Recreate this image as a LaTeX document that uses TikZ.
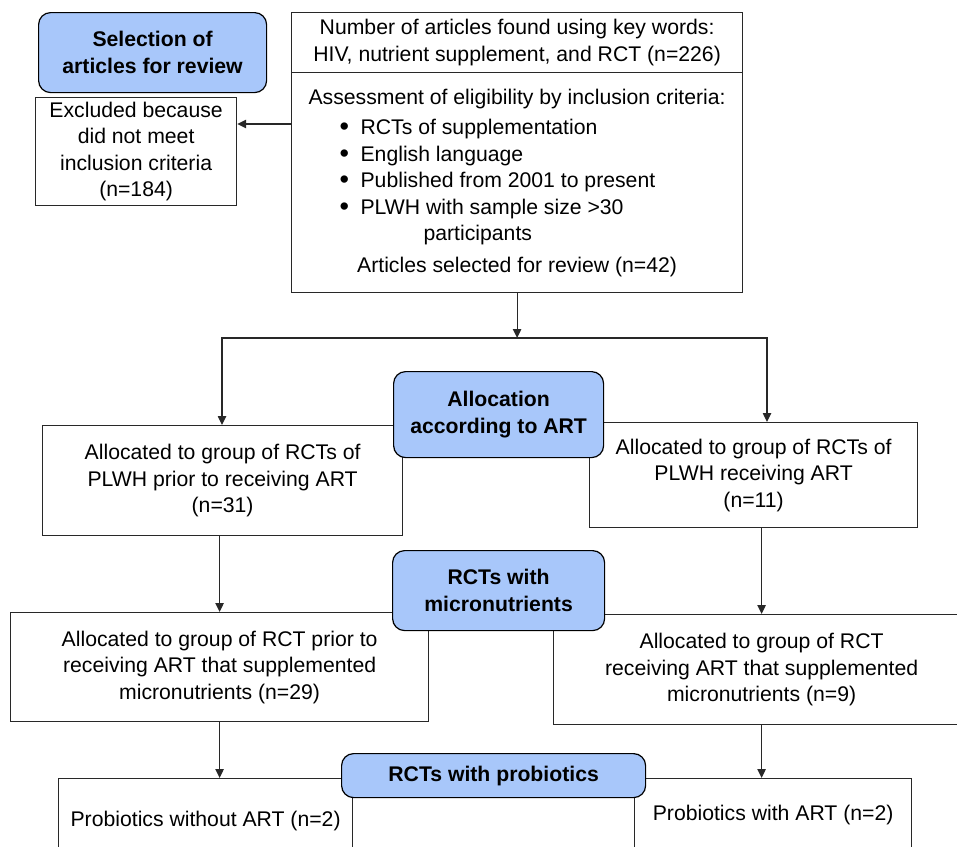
\documentclass[tikz,border=0pt]{standalone}
\usepackage{fontspec}
\setmainfont{Liberation Sans}
\usepackage{tikz}
\usetikzlibrary{arrows.meta}
\usetikzlibrary{calc}

\definecolor{hdrblue}{RGB}{168,199,250}
\definecolor{edgegray}{RGB}{40,40,40}

\newcommand{\boxfont}{\fontsize{10.6}{13.25}\selectfont}
\newcommand{\critem}[1]{\makebox[177.5pt][l]{\makebox[10.5pt][l]{\raisebox{-0.6pt}{\fontsize{13.5}{13.5}\selectfont\textbullet}}#1}}

\begin{document}
\begin{tikzpicture}[x=0.5pt,y=-0.5pt]

% Define styles
\tikzset{
    box/.style={draw=edgegray, line width=0.6pt, fill=white, inner sep=0pt, align=center, anchor=north west, font=\boxfont},
    header/.style={box, fill=hdrblue, draw=black, rounded corners=6pt, font=\boxfont\bfseries},
    arrow/.style={draw=edgegray, line width=0.6pt, -{Triangle[length=4.5pt,width=4.2pt]}}
}

% page size in pixels of the original figure
\useasboundingbox (0,0) rectangle (957,846);

% grid lines
%\draw[help lines, dashed] grid (957,846);

% top part: search and eligibility
\node[header, minimum width=114pt, minimum height=40pt] (SEL) at (38,12) {Selection of\\articles for review};

\node[box, minimum width=100.5pt, minimum height=54pt] (EXCL) at (35,97)
    {Excluded because\\did not meet\\inclusion criteria\\(n=184)};

\node[box, minimum width=225.5pt, minimum height=30pt] (SEARCH) at (291,12)
    {Number of articles found using key words:\\HIV, nutrient supplement, and RCT (n=226)};

\node[box, minimum width=225.5pt, minimum height=110pt] (ELIG) at (291,72)
    {Assessment of eligibility by inclusion criteria:\\[2pt]
     \critem{RCTs of supplementation}\\
     \critem{English language}\\
     \critem{Published from 2001 to present}\\
     \critem{PLWH with sample size >30}\\
     \makebox[177.5pt][l]{\hspace*{42pt}participants}\\[2.5pt]
     Articles selected for review (n=42)};

\draw[arrow] ([yshift=-26pt]ELIG.north west) -- ([yshift=-26pt]ELIG.north west -| EXCL.east);


% allocation according to ART
\coordinate (SPLIT) at (516,338);
\coordinate (SPLITL) at (222,338);
\coordinate (SPLITR) at (767,338);

\node[box, minimum width=180pt, minimum height=55pt] (PRIOR) at (42,425)
    {Allocated to group of RCTs of\\PLWH prior to receiving ART\\(n=31)};

\node[box, minimum width=164pt, minimum height=52.5pt] (WITHART) at (589,422)
    {Allocated to group of RCTs of\\PLWH receiving ART\\(n=11)};

\node[header, minimum width=105pt, minimum height=43pt] (ALLOC) at (393,371) {Allocation\\according to ART};

\draw[arrow] (ELIG.south) -- (ELIG.south |- SPLIT);
\draw[arrow] (SPLIT) -- (SPLITL) -- (SPLITL |- PRIOR.north);
\draw[arrow] (SPLIT) -- (SPLITR) -- (SPLITR |- WITHART.north);


% micronutrients
\node[box, minimum width=209pt, minimum height=54.5pt] (MICROA) at (10,612)
    {Allocated to group of RCT prior to\\receiving ART that supplemented\\micronutrients (n=29)};

\node[box, minimum width=208pt, minimum height=55pt] (MICROB) at (553,614)
    {Allocated to group of RCT\\receiving ART that supplemented\\micronutrients (n=9)};

\node[header, minimum width=106pt, minimum height=40pt] (MICRO) at (392,550) {RCTs with\\micronutrients};

\draw[arrow] (MICROA.north |- PRIOR.south) -- (MICROA.north);
\draw[arrow] (MICROB.north |- WITHART.south) -- (MICROB.north);


% probiotics
\node[box, minimum width=147pt, minimum height=42pt] (PROBA) at (58,778) {Probiotics without ART (n=2)};

\node[box, minimum width=138.5pt, minimum height=36pt] (PROBB) at (634,778) {Probiotics with ART (n=2)};

\node[header, minimum width=152pt, minimum height=22pt] (PROB) at (341,753) {RCTs with probiotics};

\draw[arrow] (MICROA.south) -- (MICROA.south |- PROBA.north);
\draw[arrow] (MICROB.south) -- (MICROB.south |- PROBB.north);

\end{tikzpicture}
\end{document}
